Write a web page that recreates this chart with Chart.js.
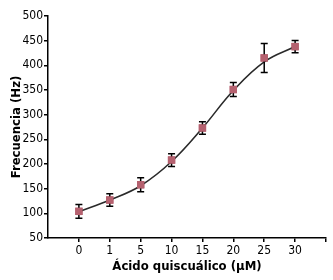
<!DOCTYPE html>
<html>
<head>
<meta charset="utf-8">
<script src="https://cdn.jsdelivr.net/npm/chart.js@4.4.1/dist/chart.umd.min.js"></script>
<style>
    html, body { margin: 0; padding: 0; background: #fff; }
    #wrap { width: 333px; height: 280px; }
</style>
</head>
<body>
<div id="wrap"><canvas id="chart" width="333" height="280"></canvas></div>
<script>
// concentrations (µM), plotted at evenly spaced positions
const categories = ['0', '1', '5', '10', '15', '20', '25', '30'];
// mean frequency (Hz) and error (±)
const meanValues = [104, 127, 158, 208, 273, 351, 415, 438];
const errorValues = [14, 12.5, 14, 13, 12.5, 14, 29.5, 12.5];
// fitted sigmoid curve read at each concentration
const fitValues = [103, 127, 156, 205, 273, 349, 407, 438];
const yTicks = [50, 100, 150, 200, 250, 300, 350, 400, 450, 500];

const family = "'DejaVu Sans Condensed', sans-serif";
const tickFont = { family: family, size: 12 };
const titleFont = { family: family, size: 13, weight: 'bold' };

function toPoints(values) {
    return values.map((v, i) => ({ x: i, y: v }));
}

// draws vertical error bars with caps using the chart scales
const errorBars = {
    id: 'errorBars',
    afterDatasetsDraw(chart) {
        const ctx = chart.ctx;
        const xs = chart.scales.x;
        const ys = chart.scales.y;
        ctx.save();
        ctx.strokeStyle = '#000';
        ctx.lineWidth = 1.5;
        meanValues.forEach((v, i) => {
            const x = xs.getPixelForValue(i);
            const top = ys.getPixelForValue(v + errorValues[i]);
            const bottom = ys.getPixelForValue(v - errorValues[i]);
            ctx.beginPath();
            ctx.moveTo(x, top);
            ctx.lineTo(x, bottom);
            ctx.moveTo(x - 3.5, top);
            ctx.lineTo(x + 3.5, top);
            ctx.moveTo(x - 3.5, bottom);
            ctx.lineTo(x + 3.5, bottom);
            ctx.stroke();
        });
        // redraw markers above the bars
        const meta = chart.getDatasetMeta(1);
        meta.data.forEach(p => p.draw(ctx, chart.chartArea));
        ctx.restore();
    }
};

new Chart(document.getElementById('chart'), {
    type: 'line',
    data: {
        datasets: [{
            label: 'Ajuste',
            data: toPoints(fitValues),
            borderColor: '#2a2a2a',
            borderWidth: 1.6,
            pointRadius: 0,
            tension: 0.4,
            fill: false,
        }, {
            label: 'Frecuencia',
            data: toPoints(meanValues),
            showLine: false,
            pointStyle: 'rect',
            pointRadius: 5.2,
            pointBackgroundColor: '#b5616f',
            pointBorderColor: '#b5616f',
            pointBorderWidth: 0,
        }],
    },
    options: {
        responsive: false,
        animation: false,
        layout: {
            padding: { left: 0, right: 7, top: 16, bottom: 0 },
        },
        plugins: {
            legend: { display: false },
            tooltip: { enabled: false },
        },
        scales: {
            x: {
                type: 'linear',
                min: -1,
                max: 8,
                afterBuildTicks: (scale) => {
                    scale.ticks = [0, 1, 2, 3, 4, 5, 6, 7, 8].map(v => ({ value: v }));
                },
                afterFit: (scale) => { scale.height = 42; },
                grid: {
                    drawOnChartArea: false,
                    drawTicks: true,
                    tickLength: 4,
                    color: '#000',
                    lineWidth: 1.5,
                },
                border: { display: true, color: '#000', width: 1.5 },
                ticks: {
                    color: '#000',
                    font: tickFont,
                    padding: 2,
                    maxRotation: 0,
                    autoSkip: false,
                    callback: (v) => categories[v] !== undefined ? categories[v] : '',
                },
                title: {
                    display: true,
                    text: 'Ácido quiscuálico (µM)',
                    color: '#000',
                    font: titleFont,
                    padding: { top: 2, bottom: 6 },
                },
            },
            y: {
                min: 50,
                max: 500,
                afterBuildTicks: (scale) => {
                    scale.ticks = yTicks.map(v => ({ value: v }));
                },
                afterFit: (scale) => { scale.width = 48; },
                grid: {
                    drawOnChartArea: false,
                    drawTicks: true,
                    tickLength: 4,
                    color: '#000',
                    lineWidth: 1.5,
                },
                border: { display: true, color: '#000', width: 1.5 },
                ticks: {
                    color: '#000',
                    font: tickFont,
                    padding: 1,
                },
                title: {
                    display: true,
                    text: 'Frecuencia (Hz)',
                    color: '#000',
                    font: titleFont,
                    padding: { top: 9, bottom: 0 },
                },
            },
        },
    },
    plugins: [errorBars],
});
</script>
</body>
</html>
